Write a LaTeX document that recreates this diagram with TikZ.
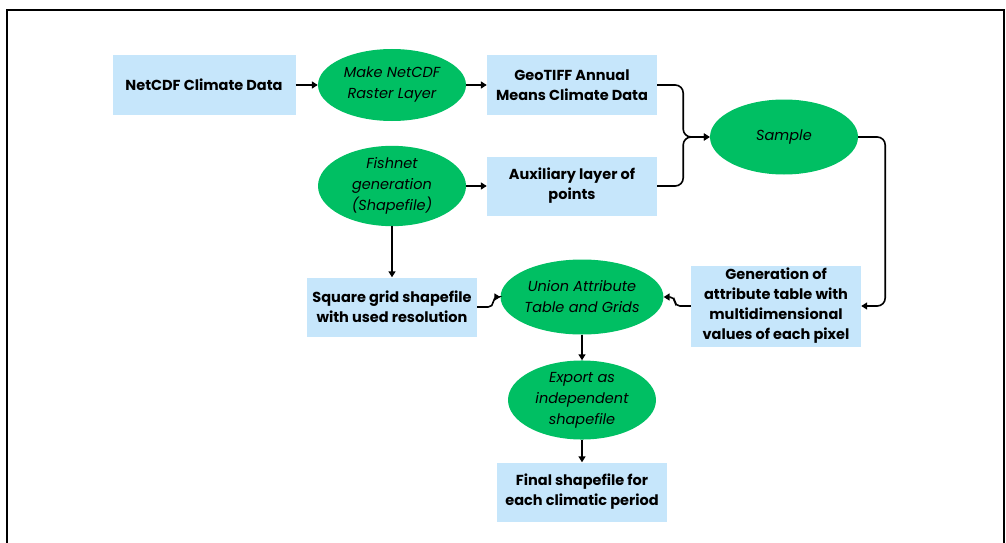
\documentclass[tikz,border=0pt]{standalone}
\usepackage{fontspec}
\setmainfont{Poppins}
\usepackage{tikz}
\usetikzlibrary{positioning}
\usetikzlibrary{shapes.geometric}
\usetikzlibrary{arrows.meta}
\definecolor{boxblue}{HTML}{C6E6FB}
\definecolor{procgreen}{HTML}{00BF63}

\begin{document}
\begin{tikzpicture}[x=1pt, y=-1pt, >={Triangle[length=6pt,width=7pt]},
    datab/.style = {rectangle, fill=boxblue, inner sep=0pt, align=center,
                    minimum width=170pt, minimum height=59pt,
                    font=\fontsize{14.5}{20}\selectfont\bfseries},
    procs/.style = {ellipse, fill=procgreen, inner sep=0pt, align=center,
                    minimum width=148pt, minimum height=75pt,
                    font=\fontsize{14.5}{21}\selectfont\itshape},
    link/.style = {->, line width=1.6pt, rounded corners=8pt}
    ]
    \useasboundingbox (0,0) rectangle (1006,543);
    \draw[line width=1.6pt] (7,545) -- (7,10) -- (1004,10) -- (1004,545);

    \node[datab, minimum width=183pt] (netcdf) at (204,85) {NetCDF Climate Data};
    \node[procs, minimum height=72pt] (raster) [right of=netcdf, node distance=188pt] {Make NetCDF\\Raster Layer};
    \node[datab] (geotiff) [right of=raster, node distance=180pt] {GeoTIFF Annual\\Means Climate Data};
    \node[procs, minimum height=80pt] (fishnet) [below of=raster, node distance=101pt] {Fishnet\\generation\\(Shapefile)};
    \node[datab] (aux) [right of=fishnet, node distance=180pt] {Auxiliary layer of\\points};
    \node[procs] (sample) at (784,137) {Sample};
    \node[datab] (square) [below of=fishnet, node distance=121pt] {Square grid shapefile\\with used resolution};
    \node[procs] (union) at (582,297) {Union Attribute\\Table and Grids};
    \node[datab, minimum height=81pt] (gen) at (776,306) {Generation of\\attribute table with\\multidimensional\\values of each pixel};
    \node[procs] (export) [below of=union, node distance=103pt] {Export as\\independent\\shapefile};
    \node[datab] (final) [below of=export, node distance=92pt] {Final shapefile for\\each climatic period};

    \draw[link] (netcdf) -- (raster);
    \draw[link] (raster) -- (geotiff);
    \draw[link] (geotiff.east) -- ++(26,0) |- (sample.west);
    \draw[link] (aux.east) -- ++(26,0) |- (sample.west);
    \draw[link] (fishnet) -- (aux);
    \draw[link] (fishnet) -- (square);
    \draw[link] (sample.east) -- ++(27,0) |- (gen.east);
    \draw[link, rounded corners=5pt] (gen.west) -- ++(-16,0) |- (union.east);
    \draw[link, rounded corners=5pt] (square.east) -- ++(16,0) |- (union.west);
    \draw[link] (union) -- (export);
    \draw[link] (export) -- (final);
\end{tikzpicture}
\end{document}
